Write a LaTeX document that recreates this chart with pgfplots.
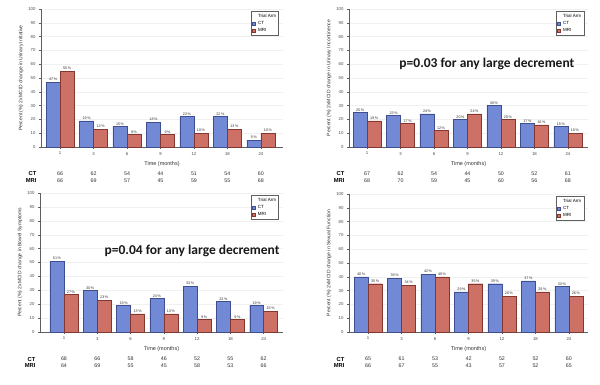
\documentclass[border=0pt]{standalone}
\usepackage{pgfplots}
\pgfplotsset{compat=1.18}
\usepackage{pgfplotstable}
\usepackage{fontspec}
\setmainfont{Liberation Sans}
\newfontfamily\calib{Carlito}
\definecolor{ctfill}{RGB}{114,138,214}
\definecolor{ctdraw}{RGB}{62,78,145}
\definecolor{mrifill}{RGB}{205,112,102}
\definecolor{mridraw}{RGB}{130,55,48}
\definecolor{axgray}{RGB}{95,95,95}

\pgfplotstableread{
x ct mri
0 47 55
1 19 13
2 15 9
3 18 9
4 22 10
5 22 13
6 5 10
}\tabA
\pgfplotstableread{
x ct mri
0 25 19
1 23 17
2 24 12
3 20 24
4 30 20
5 17 16
6 15 10
}\tabB
\pgfplotstableread{
x ct mri
0 51 27
1 30 23
2 19 13
3 24 13
4 33 9
5 22 9
6 19 15
}\tabC
\pgfplotstableread{
x ct mri
0 40 35
1 39 34
2 42 40
3 29 35
4 35 26
5 37 29
6 33 26
}\tabD

\pgfplotsset{
 panel/.style={
  scale only axis, anchor=south west,
  ymin=0, ymax=100, ytick={0,10,...,100},
  xtick={0,...,6}, xticklabels={1,3,6,9,12,18,24},
  axis lines=left, axis line style={-, axgray, line width=0.5pt},
  tick style={axgray, line width=0.4pt}, major tick length=2pt, tick align=outside,
  ymajorgrids, grid style={gray!12, line width=0.4pt},
  /pgf/number format/assume math mode=true,
  ticklabel style={font=\fontsize{4.3}{5}\selectfont, text=black!70},
  xticklabel style={yshift=0.5pt},
  xlabel={Time (months)},
  xlabel style={font=\fontsize{5.5}{6}\selectfont, text=black!80, at={([yshift=-17pt]rel axis cs:0.5,0)}, anchor=center},
  ylabel style={font=\fontsize{5}{6}\selectfont, text=black!80, at={([xshift=-20pt]rel axis cs:0,0.5)}, anchor=center},
  clip=false,
  legend style={at={(rel axis cs:0.983,0.985)}, anchor=north east, font=\fontsize{4.5}{5}\selectfont, draw=axgray, inner sep=0.6pt, row sep=-1.5pt, legend cell align=left, column sep=1pt},
 },
 barlab/.style={nodes near coords={\pgfmathprintnumber{\pgfplotspointmeta}\,\%}, every node near coord/.append style={font=\fontsize{3.7}{4}\selectfont, text=black!80, inner sep=1pt, xshift=#1}},
 ctbar/.style={ybar, bar width=0.42, bar shift=-0.21, fill=ctfill, draw=ctdraw, line width=0.4pt, barlab=-7pt,
   legend image code/.code={\draw[fill=ctfill,draw=ctdraw,line width=0.3pt] (0pt,-1.3pt) rectangle (3pt,1.3pt);}},
 mribar/.style={ybar, bar width=0.42, bar shift=0.21, fill=mrifill, draw=mridraw, line width=0.4pt, barlab=7pt,
   legend image code/.code={\draw[fill=mrifill,draw=mridraw,line width=0.3pt] (0pt,-1.3pt) rectangle (3pt,1.3pt);}},
}

\newcommand\ntable[1]{%
  \node[anchor=east, font=\fontsize{5.8}{6}\selectfont\bfseries] at ([xshift=-1pt,yshift=-27pt]rel axis cs:0,0) {CT};
  \node[anchor=east, font=\fontsize{5.8}{6}\selectfont\bfseries] at ([xshift=-1pt,yshift=-34pt]rel axis cs:0,0) {MRI};
  \foreach \i/\a/\b in {#1}{%
    \edef\tmp{\noexpand\node[font=\noexpand\fontsize{5.3}{6}\noexpand\selectfont, text=black!80] at ([yshift=-27pt]axis cs:\i,0) {\a};
      \noexpand\node[font=\noexpand\fontsize{5.3}{6}\noexpand\selectfont, text=black!80] at ([yshift=-34pt]axis cs:\i,0) {\b};}\tmp}%
}

\begin{document}
\begin{tikzpicture}
\useasboundingbox (0,0) rectangle (600pt,384pt);
\fill[white] (0,0) rectangle (600pt,384pt);

% Panel 1
\begin{axis}[panel, at={(41pt,237pt)}, width=242pt, height=138pt, xmin=-0.57, xmax=6.66,
  ylabel={Percent (\%) 2xMCID change in Urinary Irritative}]
\addlegendimage{empty legend}\addlegendentry{Trial Arm}
\addplot[ctbar] table[x=x,y=ct]{\tabA}; \addlegendentry{CT}
\addplot[mribar] table[x=x,y=mri]{\tabA}; \addlegendentry{MRI}
\ntable{0/66/66,1/62/69,2/54/57,3/44/45,4/51/59,5/54/55,6/60/68}
\end{axis}

% Panel 2
\begin{axis}[panel, at={(349pt,237pt)}, width=239pt, height=138pt, xmin=-0.54, xmax=6.6,
  ylabel={Percent (\%) 2xMCID change in Urinary Incontinence}]
\addlegendimage{empty legend}\addlegendentry{Trial Arm}
\addplot[ctbar] table[x=x,y=ct]{\tabB}; \addlegendentry{CT}
\addplot[mribar] table[x=x,y=mri]{\tabB}; \addlegendentry{MRI}
\ntable{0/67/68,1/62/70,2/54/59,3/44/45,4/50/60,5/52/56,6/61/68}
\node[font=\calib\bfseries\fontsize{13.5}{15}\selectfont, text=black!90] at (rel axis cs:0.577,0.6) {p=0.03 for any large decrement};
\end{axis}

% Panel 3
\begin{axis}[panel, at={(40pt,52pt)}, width=243pt, height=139pt, xmin=-0.72, xmax=6.58,
  ylabel={Percent (\%) 2xMCID change in Bowel Symptoms}]
\addlegendimage{empty legend}\addlegendentry{Trial Arm}
\addplot[ctbar] table[x=x,y=ct]{\tabC}; \addlegendentry{CT}
\addplot[mribar] table[x=x,y=mri]{\tabC}; \addlegendentry{MRI}
\ntable{0/68/64,1/66/69,2/58/55,3/46/45,4/52/58,5/55/53,6/62/66}
\node[font=\calib\bfseries\fontsize{13.5}{15}\selectfont, text=black!90] at (rel axis cs:0.626,0.583) {p=0.04 for any large decrement};
\end{axis}

% Panel 4
\begin{axis}[panel, at={(349pt,52pt)}, width=239pt, height=138pt, xmin=-0.57, xmax=6.57,
  ylabel={Percent (\%) 2xMCID change in Sexual Function}]
\addlegendimage{empty legend}\addlegendentry{Trial Arm}
\addplot[ctbar] table[x=x,y=ct]{\tabD}; \addlegendentry{CT}
\addplot[mribar] table[x=x,y=mri]{\tabD}; \addlegendentry{MRI}
\ntable{0/65/66,1/61/67,2/53/55,3/42/43,4/52/57,5/52/52,6/60/65}
\end{axis}
\end{tikzpicture}
\end{document}
